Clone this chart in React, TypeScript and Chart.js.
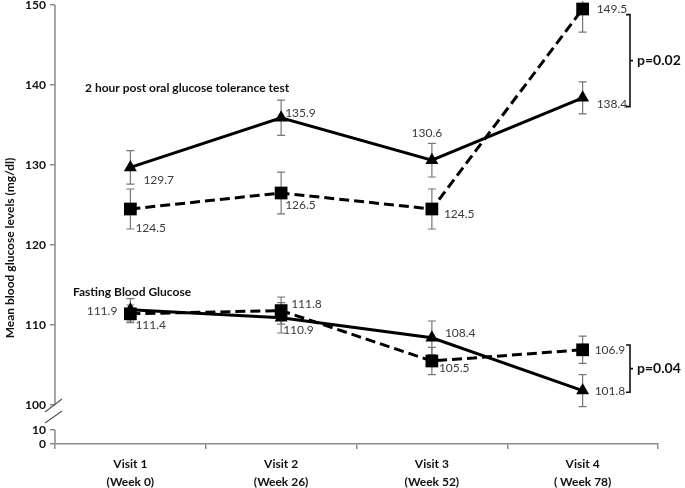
import React, { useEffect, useRef } from "react";
import { Chart, registerables } from "chart.js";

Chart.register(...registerables);

// ---------------- data ----------------
const visitLabels: string[][] = [
  ["Visit 1", "(Week 0)"],
  ["Visit 2", "(Week 26)"],
  ["Visit 3", "(Week 52)"],
  ["Visit 4", "( Week 78)"],
];

// 2 hour post oral glucose tolerance test
const ogttTriangle = [129.7, 135.9, 130.6, 138.4];
const ogttTriangleErr = [2.1, 2.2, 2.1, 2.0];
const ogttSquare = [124.5, 126.5, 124.5, 149.5];
const ogttSquareErr = [2.5, 2.6, 2.5, 2.9];

// Fasting blood glucose
const fbgTriangle = [111.9, 110.9, 108.4, 101.8];
const fbgTriangleErr = [1.4, 1.9, 2.1, 2.0];
const fbgSquare = [111.4, 111.8, 105.5, 106.9];
const fbgSquareErr = [1.1, 1.7, 1.7, 1.7];

const upperTicks = [100, 110, 120, 130, 140, 150];
const lowerTicks = [0, 10];

const seriesTitles = ["2 hour post oral glucose tolerance test", "Fasting Blood Glucose"];
const yTitle = "Mean blood glucose levels (mg/dl)";

// brackets: [high value, low value, label]
const bracketHigh = [148.8, 107.5];
const bracketLow = [137.3, 101.6];
const bracketText = ["p=0.02", "p=0.04"];

// ---------------- styling / layout ----------------
const FONT = "Lato, 'Liberation Sans', sans-serif";
const AXIS_GRAY = "#8a8a8a";
const Y_MIN = 95.125;
const Y_MAX = 150;
const LOW_SCALE = 0.175; // compressed segment below the axis break
const lowToAxis = (v: number) => Y_MIN + v * LOW_SCALE;
const axisToLow = (v: number) => Math.round((v - Y_MIN) / LOW_SCALE);

// label offsets [dx, dy, align]
type Off = [number, number, CanvasTextAlign];
const offOgttTri: Off[] = [[13, 13, "left"], [4, -5, "left"], [-5, -27, "center"], [14, 6, "left"]];
const offOgttSq: Off[] = [[5, 19, "left"], [4, 12, "left"], [12, 5, "left"], [14, 0, "left"]];
const offFbgTri: Off[] = [[-13, 1, "right"], [2, 12, "left"], [13, -5, "left"], [12, 1, "left"]];
const offFbgSq: Off[] = [[5, 11, "left"], [10, -6, "left"], [7, 7, "left"], [12, 0, "left"]];

const errorBarPlugin = {
  id: "errorBars",
  beforeDatasetsDraw(chart: any) {
    const ctx = chart.ctx;
    const y = chart.scales.y;
    const area = chart.chartArea;
    ctx.save();
    ctx.strokeStyle = "#777";
    ctx.lineWidth = 1.2;
    chart.data.datasets.forEach((ds: any, i: number) => {
      const meta = chart.getDatasetMeta(i);
      ds.errors.forEach((e: number, j: number) => {
        const x = meta.data[j].x;
        const rawTop = y.getPixelForValue(ds.data[j] + e);
        const top = Math.max(rawTop, area.top - 4);
        const bot = y.getPixelForValue(ds.data[j] - e);
        ctx.beginPath();
        ctx.moveTo(x, top);
        ctx.lineTo(x, bot);
        if (rawTop >= area.top - 4) {
          ctx.moveTo(x - 4, top);
          ctx.lineTo(x + 4, top);
        }
        ctx.moveTo(x - 4, bot);
        ctx.lineTo(x + 4, bot);
        ctx.stroke();
      });
    });
    ctx.restore();
  },
};

const annotationPlugin = {
  id: "annotations",
  afterDatasetsDraw(chart: any) {
    const ctx = chart.ctx;
    const y = chart.scales.y;
    const area = chart.chartArea;
    ctx.save();
    // value labels
    ctx.font = `12px ${FONT}`;
    ctx.fillStyle = "#3a3a3a";
    ctx.textBaseline = "middle";
    chart.data.datasets.forEach((ds: any, i: number) => {
      const meta = chart.getDatasetMeta(i);
      ds.data.forEach((v: number, j: number) => {
        const p = meta.data[j];
        const [dx, dy, al] = ds.labelOffsets[j];
        ctx.textAlign = al;
        ctx.fillText(v.toFixed(1), p.x + dx, p.y + dy);
      });
    });
    // group titles
    ctx.font = `bold 12px ${FONT}`;
    ctx.fillStyle = "#111";
    ctx.textAlign = "left";
    ctx.fillText(seriesTitles[0], 85, 88);
    ctx.fillText(seriesTitles[1], 73, 292);

    // brackets
    ctx.strokeStyle = "#111";
    ctx.lineWidth = 1.6;
    const bx = 630;
    bracketHigh.forEach((hv, k) => {
      const t = y.getPixelForValue(hv);
      const b = y.getPixelForValue(bracketLow[k]);
      const m = (t + b) / 2;
      ctx.beginPath();
      ctx.moveTo(bx - 4, t);
      ctx.lineTo(bx, t);
      ctx.lineTo(bx, b);
      ctx.lineTo(bx - 4, b);
      ctx.moveTo(bx, m);
      ctx.lineTo(bx + 3, m);
      ctx.stroke();
      ctx.font = `bold 14px ${FONT}`;
      ctx.textAlign = "left";
      ctx.fillText(bracketText[k], bx + 7, m);
    });

    // y-axis line with break
    const ax = area.left;
    ctx.strokeStyle = AXIS_GRAY;
    ctx.lineWidth = 1.5;
    const y150 = y.getPixelForValue(upperTicks[upperTicks.length - 1]);
    const y100 = y.getPixelForValue(upperTicks[0]);
    const y10 = y.getPixelForValue(lowToAxis(lowerTicks[1]));
    ctx.beginPath();
    ctx.moveTo(ax, y150);
    ctx.lineTo(ax, y100);
    ctx.moveTo(ax, y10);
    ctx.lineTo(ax, area.bottom);
    ctx.stroke();
    ctx.strokeStyle = "#555";
    ctx.lineWidth = 1.2;
    ctx.beginPath();
    ctx.moveTo(ax - 10, y100 + 7);
    ctx.lineTo(ax + 7, y100 - 6);
    ctx.moveTo(ax - 10, y100 + 18);
    ctx.lineTo(ax + 7, y100 + 6);
    ctx.stroke();

    // y title
    ctx.translate(10, 248);
    ctx.rotate(-Math.PI / 2);
    ctx.font = `bold 12px ${FONT}`;
    ctx.fillStyle = "#111";
    ctx.textAlign = "center";
    ctx.fillText(yTitle, 0, 0);
    ctx.restore();
  },
};

export default function App() {
  const ref = useRef<HTMLCanvasElement>(null);
  useEffect(() => {
    if (!ref.current) return;
    const solid = { borderColor: "#000", backgroundColor: "#000", borderWidth: 3, pointStyle: "triangle", pointRadius: 7.5, pointBorderWidth: 0 };
    const dashed = { borderColor: "#000", backgroundColor: "#000", borderWidth: 3, borderDash: [10, 5], pointStyle: "rect", pointRadius: 9, pointBorderWidth: 0 };
    const chart = new Chart(ref.current, {
      type: "line",
      data: {
        labels: visitLabels as any,
        datasets: [
          { ...solid, data: ogttTriangle, errors: ogttTriangleErr, labelOffsets: offOgttTri, clip: false } as any,
          { ...dashed, data: ogttSquare, errors: ogttSquareErr, labelOffsets: offOgttSq, clip: false } as any,
          { ...solid, data: fbgTriangle, errors: fbgTriangleErr, labelOffsets: offFbgTri, clip: false } as any,
          { ...dashed, data: fbgSquare, errors: fbgSquareErr, labelOffsets: offFbgSq, clip: false } as any,
        ],
      },
      options: {
        animation: false,
        responsive: false,
        devicePixelRatio: 1,
        layout: { autoPadding: false, padding: { top: 5, right: 27, left: 0, bottom: 0 } },
        plugins: { legend: { display: false }, tooltip: { enabled: false } },
        scales: {
          x: {
            offset: true,
            grid: { display: true, drawOnChartArea: false, drawTicks: true, tickLength: 5, color: AXIS_GRAY, offset: true, lineWidth: 1.5 },
            border: { display: true, color: AXIS_GRAY, width: 1.5 },
            ticks: { font: { family: FONT, size: 12, weight: "bold", lineHeight: 1.5 }, color: "#111", padding: 6, maxRotation: 0 },
            afterFit: (s: any) => { s.height = 44; },
          },
          y: {
            min: Y_MIN,
            max: Y_MAX,
            grid: { display: true, drawOnChartArea: false, drawTicks: true, tickLength: 5, color: AXIS_GRAY, lineWidth: 1.5 },
            border: { display: false },
            afterBuildTicks: (s: any) => {
              s.ticks = [...lowerTicks.map((v) => ({ value: lowToAxis(v) })), ...upperTicks.map((v) => ({ value: v }))];
            },
            ticks: {
              font: { family: FONT, size: 12, weight: "bold" },
              color: "#111",
              padding: 4,
              callback: (v: any) => (v < upperTicks[0] - 0.5 ? String(axisToLow(v)) : String(v)),
            },
            afterFit: (s: any) => { s.width = 55; s.paddingTop = 0; s.paddingBottom = 0; },
          },
        },
      },
      plugins: [errorBarPlugin, annotationPlugin],
    });
    return () => chart.destroy();
  }, []);
  return (
    <div style={{ position: "fixed", left: 0, top: 0, width: 685, height: 488, background: "#fff" }}>
      <canvas ref={ref} width={685} height={488} />
    </div>
  );
}
